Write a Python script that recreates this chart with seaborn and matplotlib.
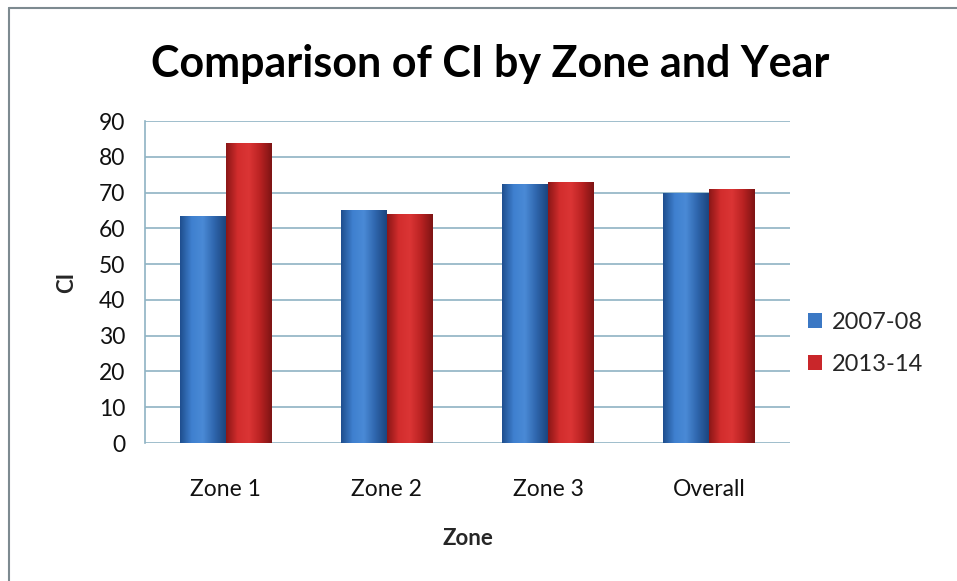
import numpy as np
import pandas as pd
import matplotlib
matplotlib.use('Agg')
import matplotlib.pyplot as plt
import seaborn as sns
from matplotlib.colors import LinearSegmentedColormap
from matplotlib.lines import Line2D

zones = ['Zone 1', 'Zone 2', 'Zone 3', 'Overall']
years = ['2007-08', '2013-14']
ci_2007 = [63.4, 65.1, 72.3, 69.8]
ci_2013 = [83.9, 63.9, 73.0, 70.9]

df = pd.DataFrame({
    'Zone': zones * 2,
    'Year': [years[0]] * 4 + [years[1]] * 4,
    'CI': ci_2007 + ci_2013,
})

sns.set_style('white')
plt.rcParams['font.family'] = ['Lato', 'DejaVu Sans']

palette = {'2007-08': '#3b78c4', '2013-14': '#c9262a'}
grads = {
    '2007-08': LinearSegmentedColormap.from_list('b', ['#1f4f8f', '#3f80cf', '#4a8ad6', '#2f66ad', '#1c467f']),
    '2013-14': LinearSegmentedColormap.from_list('r', ['#8c1717', '#d22d2d', '#db3535', '#b92222', '#7e1414']),
}

fig = plt.figure(figsize=(9.57, 5.81), dpi=100)
ax = fig.add_axes([0.1515, 0.2375, 0.674, 0.554])

sns.barplot(data=df, x='Zone', y='CI', hue='Year', palette=palette,
            width=0.57, gap=0, ax=ax, saturation=1, edgecolor='none')

# horizontal gradient on each bar
for cont, yr in zip(ax.containers, years):
    for p in cont.patches:
        x0, y0 = p.get_x(), p.get_y()
        w, h = p.get_width(), p.get_height()
        img = ax.imshow(np.linspace(0, 1, 64).reshape(1, -1), cmap=grads[yr],
                        extent=[x0, x0 + w, y0, y0 + h], aspect='auto', zorder=2)
        img.set_clip_path(p)
        p.set_facecolor('none')

ax.set_xlim(-0.5, 3.5)
ax.set_ylim(0, 90)
ax.set_yticks(range(0, 91, 10))
ax.yaxis.grid(True, color='#8fb3c4', linewidth=1.2)
ax.set_axisbelow(True)
for s in ['top', 'right', 'bottom']:
    ax.spines[s].set_visible(False)
ax.spines['left'].set_color('#8fb3c4')
ax.spines['left'].set_linewidth(1.2)
ax.tick_params(axis='y', length=6, color='#8fb3c4', labelsize=16.5, pad=8)
ax.tick_params(axis='x', length=0, labelsize=16.5, pad=26)
for t in ax.get_xticklabels() + ax.get_yticklabels():
    t.set_color('#111111')

ax.set_xlabel('Zone', fontsize=16, fontweight='bold', labelpad=20)
ax.set_ylabel('CI', fontsize=16, fontweight='bold', labelpad=16)
ax.set_title('Comparison of CI by Zone and Year', fontsize=31, fontweight='bold',
             pad=32, x=0.535, color='black')

ax.legend(loc='center left', bbox_to_anchor=(0.995, 0.31), frameon=False,
          fontsize=17, handlelength=0.6, handleheight=0.6, handletextpad=0.4,
          labelspacing=0.9)

# outer frame: only top and left edges visible
fig.lines.append(Line2D([0.009, 1.0], [0.986, 0.986], transform=fig.transFigure,
                        color='#7d8a90', linewidth=1.5))
fig.lines.append(Line2D([0.009, 0.009], [0.0, 0.986], transform=fig.transFigure,
                        color='#7d8a90', linewidth=1.5))

fig.savefig('out.png', dpi=100)
